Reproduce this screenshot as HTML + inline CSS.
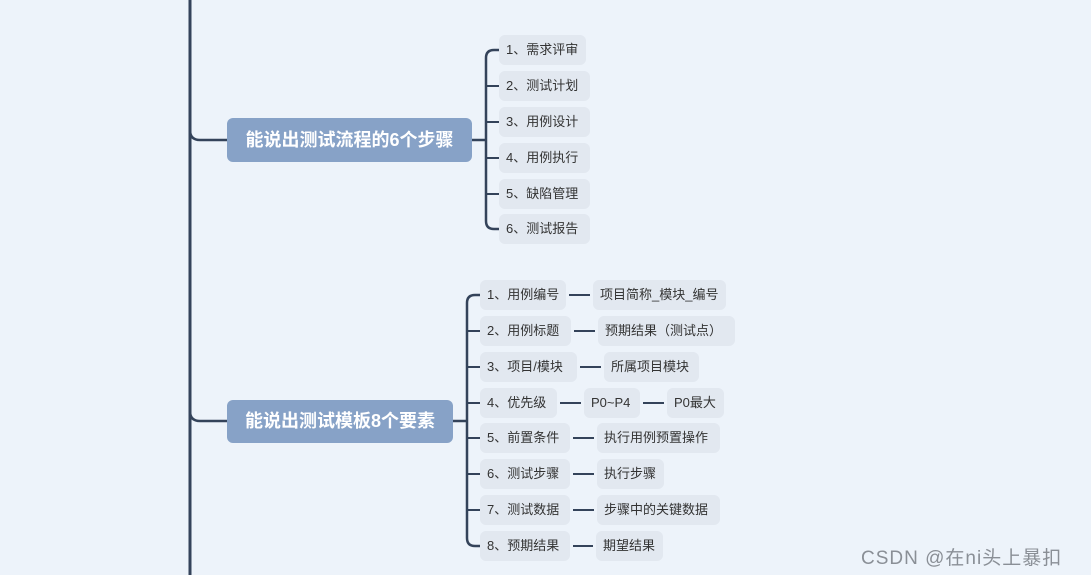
<!DOCTYPE html>
<html><head><meta charset="utf-8"><style>
body{margin:0;width:1091px;height:575px;overflow:hidden;background:#edf3fa;font-family:"Liberation Sans","Noto Sans CJK SC",sans-serif;position:relative}
.b{position:absolute;background:#e2e8f0;border-radius:6px;height:30px;line-height:30px;font-size:13px;color:#333;padding-left:7px;box-sizing:border-box;white-space:nowrap}
.m{position:absolute;background:#87a2c7;border-radius:6px;color:#fff;font-weight:bold;font-size:18px;text-align:center;box-sizing:border-box;white-space:nowrap}
svg{position:absolute;left:0;top:0}
</style></head><body>
<svg width="1091" height="575" fill="none" stroke="#34435a" stroke-width="2.5">
<line x1="190" y1="0" x2="190" y2="575" stroke-width="3"/>
<path d="M190 130 Q190 140 200 140 L227 140"/>
<path d="M190 411 Q190 421 200 421 L227 421"/>
<path d="M472 140 L486 140"/>
<path d="M486 58 L486 221 M486 58 Q486 50 494 50 L499 50 M486 221 Q486 229 494 229 L499 229"/>
<path d="M486 86 Q486 86 494 86 L499 86 M486 122 L499 122 M486 158 L499 158 M486 194 L499 194" stroke-width="2"/>
<path d="M453 421 L467 421"/>
<path d="M467 303 L467 538 M467 303 Q467 295 475 295 L480 295 M467 538 Q467 546 475 546 L480 546"/>
<path d="M467 331 L480 331 M467 367 L480 367 M467 403 L480 403 M467 438 L480 438 M467 474 L480 474 M467 510 L480 510" stroke-width="2"/>
<g stroke-width="2">
<path d="M569 295 L590 295 M574 331 L595 331 M580 367 L601 367 M560 403 L581 403 M643 403 L664 403 M573 438 L594 438 M573 474 L594 474 M573 510 L594 510 M573 546 L593 546"/>
</g>
</svg>
<div class="m" style="left:227px;top:118px;width:245px;height:44px;line-height:44px">能说出测试流程的6个步骤</div>
<div class="m" style="left:227px;top:400px;width:226px;height:43px;line-height:43px">能说出测试模板8个要素</div>
<div class="b" style="left:499px;top:35px;width:87px">1、需求评审</div>
<div class="b" style="left:499px;top:71px;width:91px">2、测试计划</div>
<div class="b" style="left:499px;top:107px;width:91px">3、用例设计</div>
<div class="b" style="left:499px;top:143px;width:91px">4、用例执行</div>
<div class="b" style="left:499px;top:179px;width:91px">5、缺陷管理</div>
<div class="b" style="left:499px;top:214px;width:91px">6、测试报告</div>
<div class="b" style="left:480px;top:280px;width:86px">1、用例编号</div>
<div class="b" style="left:480px;top:316px;width:91px">2、用例标题</div>
<div class="b" style="left:480px;top:352px;width:97px">3、项目/模块</div>
<div class="b" style="left:480px;top:388px;width:77px">4、优先级</div>
<div class="b" style="left:480px;top:423px;width:90px">5、前置条件</div>
<div class="b" style="left:480px;top:459px;width:90px">6、测试步骤</div>
<div class="b" style="left:480px;top:495px;width:90px">7、测试数据</div>
<div class="b" style="left:480px;top:531px;width:90px">8、预期结果</div>
<div class="b" style="left:593px;top:280px;width:133px">项目简称_模块_编号</div>
<div class="b" style="left:598px;top:316px;width:137px">预期结果（测试点）</div>
<div class="b" style="left:604px;top:352px;width:95px">所属项目模块</div>
<div class="b" style="left:584px;top:388px;width:56px">P0~P4</div>
<div class="b" style="left:667px;top:388px;width:57px">P0最大</div>
<div class="b" style="left:597px;top:423px;width:123px">执行用例预置操作</div>
<div class="b" style="left:597px;top:459px;width:67px">执行步骤</div>
<div class="b" style="left:597px;top:495px;width:123px">步骤中的关键数据</div>
<div class="b" style="left:596px;top:531px;width:67px">期望结果</div>
<div style="position:absolute;left:861px;top:543px;font-size:19px;letter-spacing:1px;color:#8a8f96;white-space:nowrap">CSDN @在ni头上暴扣</div>
</body></html>
